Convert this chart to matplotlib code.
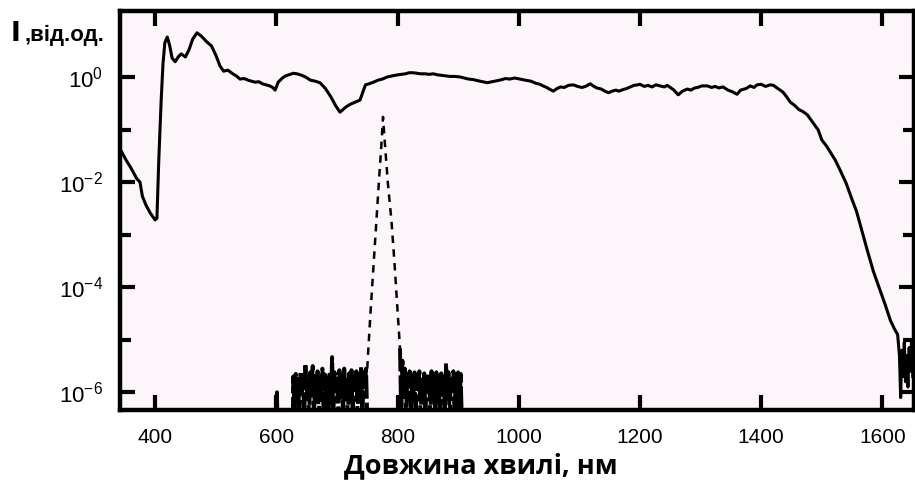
import matplotlib
matplotlib.use("Agg")
import matplotlib.pyplot as plt
import numpy as np

# supercontinuum spectrum (solid), log10 of intensity
wl_sc = [345, 352, 360, 370, 375, 379, 385, 392, 400, 403,
         406, 410, 413, 416, 420, 424, 428, 433, 438, 443,
         450, 456, 462, 469, 476, 485, 493, 500, 507, 513,
         520, 528, 534, 540, 547, 553, 559, 565, 571, 577,
         583, 589, 594, 598, 603, 610, 615, 620, 628, 634,
         640, 648, 656, 664, 672, 681, 690, 698, 705, 710,
         715, 722, 730, 738, 747, 753, 760, 768, 775, 783,
         791, 800, 806, 813, 819, 826, 832, 838, 845, 852,
         859, 866, 873, 880, 887, 895, 903, 910, 917, 925,
         932, 940, 948, 956, 965, 972, 978, 985, 993, 1002,
         1010, 1020, 1028, 1035, 1040, 1046, 1052, 1057, 1063, 1069,
         1075, 1082, 1090, 1097, 1104, 1110, 1118, 1124, 1129, 1136,
         1142, 1148, 1154, 1160, 1165, 1172, 1178, 1184, 1190, 1196,
         1200, 1207, 1213, 1220, 1226, 1233, 1240, 1245, 1250, 1256,
         1263, 1270, 1278, 1284, 1290, 1295, 1302, 1311, 1318, 1324,
         1330, 1337, 1345, 1352, 1360, 1366, 1375, 1382, 1388, 1393,
         1400, 1407, 1415, 1420, 1425, 1430, 1436, 1442, 1448, 1455,
         1462, 1469, 1476, 1484, 1494, 1500, 1508, 1515, 1522, 1530,
         1540, 1550, 1557, 1563, 1569, 1575, 1585, 1596, 1605, 1613,
         1620, 1625, 1628, 1630, 1632, 1634, 1636, 1638, 1640, 1642,
         1644, 1646, 1648, 1650]
lg_sc = [-1.43, -1.58, -1.73, -1.94, -2.00, -2.27, -2.44, -2.59, -2.72, -2.69,
         -1.60, -0.44, 0.25, 0.65, 0.76, 0.60, 0.36, 0.29, 0.38, 0.44,
         0.38, 0.52, 0.72, 0.84, 0.78, 0.67, 0.59, 0.42, 0.21, 0.11,
         0.13, 0.06, 0.02, -0.04, -0.03, -0.06, -0.08, -0.10, -0.09, -0.13,
         -0.15, -0.17, -0.20, -0.25, -0.10, -0.02, 0.02, 0.04, 0.07, 0.06,
         0.04, 0.00, -0.06, -0.08, -0.11, -0.22, -0.38, -0.55, -0.67, -0.62,
         -0.57, -0.52, -0.48, -0.44, -0.15, -0.13, -0.10, -0.06, -0.04, 0.00,
         0.02, 0.04, 0.05, 0.06, 0.08, 0.08, 0.07, 0.06, 0.06, 0.05,
         0.06, 0.04, 0.03, 0.02, 0.01, 0.01, 0.00, -0.02, -0.04, -0.05,
         -0.07, -0.09, -0.11, -0.09, -0.07, -0.05, -0.03, -0.04, -0.02, -0.04,
         -0.06, -0.08, -0.12, -0.14, -0.17, -0.20, -0.24, -0.27, -0.22, -0.19,
         -0.20, -0.16, -0.15, -0.18, -0.20, -0.18, -0.13, -0.18, -0.21, -0.23,
         -0.27, -0.30, -0.27, -0.25, -0.27, -0.24, -0.22, -0.19, -0.16, -0.15,
         -0.14, -0.18, -0.16, -0.19, -0.15, -0.17, -0.19, -0.16, -0.20, -0.25,
         -0.34, -0.27, -0.23, -0.25, -0.21, -0.20, -0.17, -0.17, -0.20, -0.18,
         -0.21, -0.19, -0.25, -0.28, -0.33, -0.25, -0.22, -0.17, -0.20, -0.15,
         -0.14, -0.18, -0.15, -0.16, -0.20, -0.24, -0.29, -0.38, -0.48, -0.54,
         -0.62, -0.66, -0.72, -0.85, -1.01, -1.20, -1.32, -1.45, -1.58, -1.77,
         -2.02, -2.34, -2.55, -2.80, -3.05, -3.30, -3.70, -4.06, -4.35, -4.63,
         -4.80, -4.90, -5.30, -6.10, -5.20, -5.70, -5.05, -5.80, -5.30, -5.90,
         -5.15, -5.60, -5.00, -5.70]

# pump pulse (dashed)
wl_pump = [750, 751, 755, 760, 765, 770, 773, 776, 779, 784, 790, 795, 800, 804]
lg_pump = [-5.55, -5.33, -4.55, -3.65, -2.75, -1.85, -1.35, -0.76, -1.25,
           -2.02, -2.75, -3.55, -4.45, -5.16]

# noise floor of the pump measurement, left and right of the pulse
wl_noise_l = [600, 601, 602, 627,
              628, 630, 632, 634, 636, 638, 640, 642, 644, 646,
              648, 650, 652, 654, 656, 658, 660, 662, 664, 666,
              668, 670, 672, 674, 676, 678, 680, 682, 684, 686,
              688, 690, 692, 694, 696, 698, 700, 702, 704, 706,
              708, 710, 712, 714, 716, 718, 720, 722, 724, 726,
              728, 730, 732, 734, 736, 738, 740, 742, 744, 746,
              748, 750]
lg_noise_l = [-6.6, -6.0, -6.6, -6.6,
              -5.70, -6.50, -5.65, -6.20, -5.75, -6.50, -5.60, -6.00, -5.68, -6.50,
              -5.45, -6.10, -5.70, -6.50, -5.62, -5.95, -5.50, -6.50, -5.72, -6.05,
              -5.60, -6.50, -5.68, -6.15, -5.55, -6.50, -5.66, -6.00, -5.72, -6.50,
              -5.60, -6.20, -5.33, -6.50, -5.62, -5.95, -5.70, -6.50, -5.58, -6.10,
              -5.66, -6.50, -5.55, -6.00, -5.70, -6.50, -5.64, -6.15, -5.58, -6.50,
              -5.70, -5.95, -5.60, -6.50, -5.66, -6.05, -5.50, -6.50, -5.62, -5.90,
              -5.55, -6.50]
wl_noise_r = [804, 806, 808, 810, 812, 814, 816, 818, 820, 822, 824,
              826, 828, 830, 832, 834, 836, 838, 840, 842, 844,
              846, 848, 850, 852, 854, 856, 858, 860, 862, 864,
              866, 868, 870, 872, 874, 876, 878, 880, 882, 884,
              886, 888, 890, 892, 894, 896, 898, 900, 902, 904,
              906]
lg_noise_r = [-5.16, -6.50, -5.40, -6.00, -5.55, -6.50, -5.65, -5.90, -5.60, -6.50, -5.70,
              -6.10, -5.62, -6.50, -5.68, -5.95, -5.60, -6.50, -5.72, -6.05, -5.64,
              -6.50, -5.70, -6.00, -5.66, -6.50, -5.60, -6.15, -5.68, -6.50, -5.62,
              -5.95, -5.70, -6.50, -5.64, -6.05, -5.70, -6.50, -5.45, -6.00, -5.62,
              -6.50, -5.70, -5.95, -5.60, -6.50, -5.66, -6.10, -5.62, -6.50, -5.65,
              -6.50]

x_ticks = [400, 600, 800, 1000, 1200, 1400, 1600]
y_major = [1e-6, 1e-4, 1e-2, 1e0]
y_labels = [r"$10^{-6}$", r"$10^{-4}$", r"$10^{-2}$", r"$10^{0}$"]
y_minor = [1e-5, 1e-3, 1e-1]

plt.rcParams["font.family"] = ["Liberation Sans", "DejaVu Sans"]
plt.rcParams["mathtext.default"] = "regular"

fig = plt.figure(figsize=(9.15, 4.95), dpi=100)
ax = fig.add_axes([0.1311, 0.1717, 0.8678, 0.8061])
ax.set_facecolor("#fcf5fa")

ax.plot(wl_sc, 10.0 ** np.array(lg_sc), color="black", lw=2.2)
ax.plot(wl_pump, 10.0 ** np.array(lg_pump), color="black", lw=1.8,
        linestyle=(0, (3, 2.5)))
# noise is dense: thick short-gap dashes
for wl_n, lg_n in [(wl_noise_l, lg_noise_l), (wl_noise_r, lg_noise_r)]:
    ax.plot(wl_n, 10.0 ** np.array(lg_n), color="black", lw=2.8,
            linestyle=(0, (6, 1)))

ax.set_yscale("log")
ax.set_xlim(342, 1652)
ax.set_ylim(4.6e-7, 18)

ax.set_xticks(x_ticks)
ax.set_xticklabels([str(t) for t in x_ticks])
ax.set_yticks(y_major)
ax.set_yticklabels(y_labels)
ax.set_yticks(y_minor, minor=True)
ax.yaxis.set_minor_formatter(matplotlib.ticker.NullFormatter())
ax.xaxis.set_minor_locator(matplotlib.ticker.NullLocator())

# thick frame, ticks pointing inward on all sides
for s in ax.spines.values():
    s.set_linewidth(3.2)
ax.tick_params(axis="both", which="major", direction="in", length=11, width=3,
               top=True, right=True)
ax.tick_params(axis="y", which="minor", direction="in", length=8, width=3,
               right=True)
ax.tick_params(axis="x", labelsize=15, pad=13)
ax.tick_params(axis="y", labelsize=16, pad=12)

# axis titles, placed by hand like in the picture
fig.text(0.012, 0.918, "I", fontsize=19, fontweight="bold", family="DejaVu Sans",
         va="baseline")
fig.text(0.027, 0.918, ",від.од.", fontsize=16, fontweight="bold",
         family=["Liberation Sans", "DejaVu Sans"], va="baseline")
fig.text(0.526, 0.058, "Довжина хвилі, нм", fontsize=19.5, fontweight="bold",
         family=["Open Sans", "DejaVu Sans"], ha="center", va="center")

fig.savefig("out.png", dpi=100)
